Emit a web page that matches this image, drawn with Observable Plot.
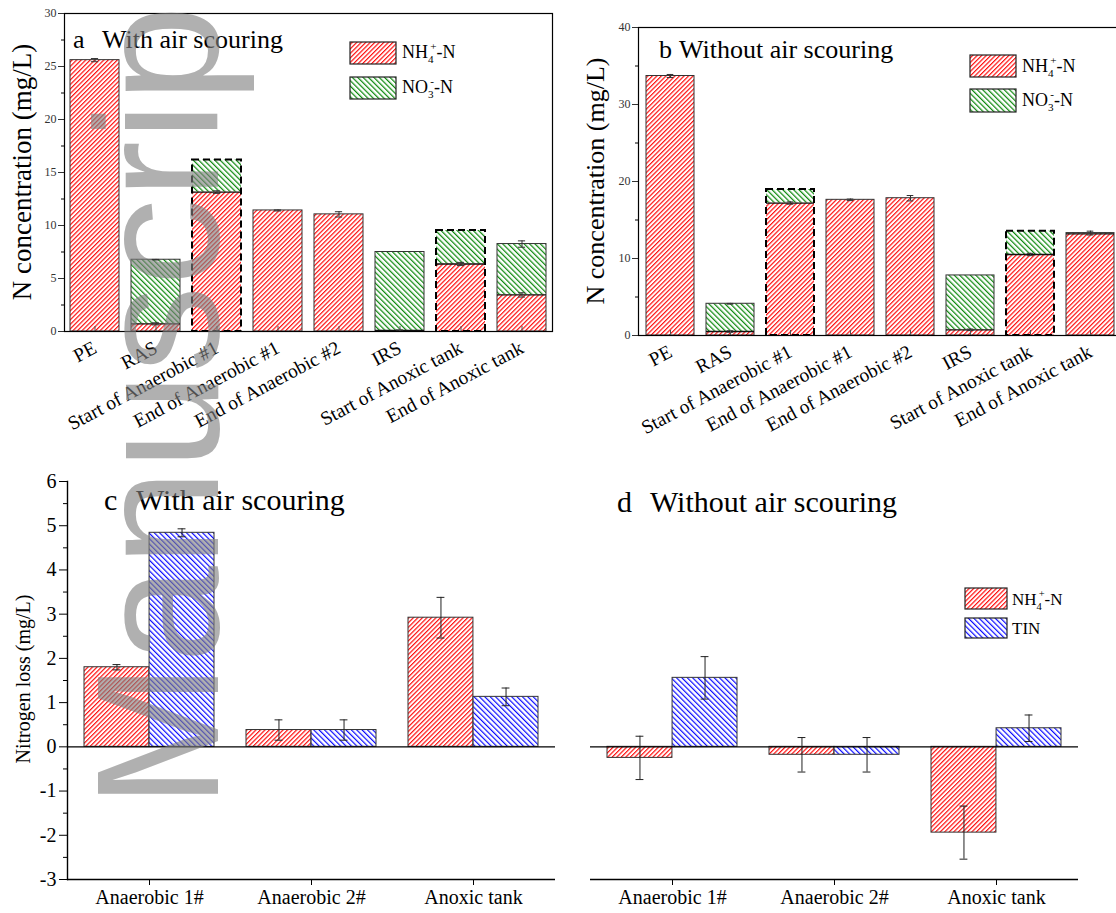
<!DOCTYPE html>
<html><head><meta charset="utf-8">
<script src="https://cdn.jsdelivr.net/npm/d3@7"></script>
<script src="https://cdn.jsdelivr.net/npm/@observablehq/plot@0.6"></script>
<style>
html,body{margin:0;padding:0;background:#fff;overflow:hidden;}
#root{position:relative;width:1116px;height:913px;overflow:hidden;}
#root svg{position:absolute;}
</style></head>
<body><div id="root"></div>
<script>
// ---------- data ----------
const stations = ["PE","RAS","Start of Anaerobic #1","End of Anaerobic #1","End of Anaerobic #2","IRS","Start of Anoxic tank","End of Anoxic tank"];
const dashedStations = ["Start of Anaerobic #1","Start of Anoxic tank"];
// panel a (with air scouring)
const nh4A    = [25.6, 0.72, 13.15, 11.42, 11.05, 0.10, 6.37, 3.45];
const no3A    = [0,    6.05, 3.03,  0,     0,     7.40, 3.16, 4.80];
const nh4ErrA = [0.15, 0.10, 0.12,  0.05,  0.25,  0.05, 0.15, 0.20];
const topErrA = [0,    0.03, 0,     0,     0,     0,    0,    0.30];
// panel b (without air scouring)
const nh4B    = [33.7, 0.52, 17.2,  17.62, 17.83, 0.74, 10.52, 13.2];
const no3B    = [0,    3.60, 1.76,  0,     0,     7.06, 3.03,  0.10];
const nh4ErrB = [0.20, 0.10, 0.15,  0.10,  0.35,  0.10, 0.15,  0];
const topErrB = [0,    0.05, 0,     0,     0,     0,    0,     0.25];
// panels c, d (nitrogen loss)
const zones = ["Anaerobic 1#","Anaerobic 2#","Anoxic tank"];
const nh4LossC = [1.80, 0.38, 2.92];
const nh4LossErrC = [0.06, 0.23, 0.46];
const tinLossC = [4.84, 0.38, 1.13];
const tinLossErrC = [0.09, 0.23, 0.20];
const nh4LossD = [-0.25, -0.18, -1.94];
const nh4LossErrD = [0.49, 0.39, 0.60];
const tinLossD = [1.56, -0.18, 0.42];
const tinLossErrD = [0.48, 0.39, 0.30];
const yTicksAB = {a:[0,5,10,15,20,25,30], b:[0,10,20,30,40]};
const yTicksC = [-3,-2,-1,0,1,2,3,4,5,6];

const root = document.getElementById("root");
const SERIF = "Liberation Serif, Times New Roman, serif";

// ---------- overlay svg with patterns ----------
const ov = d3.create("svg").attr("width",1116).attr("height",913)
  .style("left","0px").style("top","0px").style("z-index",5).style("pointer-events","none");
const defs = ov.append("defs");
function hatch(id, color, period, sw, angle){
  const p = defs.append("pattern").attr("id",id).attr("patternUnits","userSpaceOnUse")
    .attr("width",period).attr("height",period).attr("patternTransform",`rotate(${angle})`);
  p.append("rect").attr("width",period).attr("height",period).attr("fill","#fff");
  p.append("line").attr("x1",sw/2).attr("x2",sw/2).attr("y1",0).attr("y2",period)
    .attr("stroke",color).attr("stroke-width",sw);
}
hatch("hR","#ff1010",3.2,1.2,45);
hatch("hG","#108a10",3.8,1.25,-45);
hatch("hB","#0a0aff",3.8,1.2,-45);

// ---------- stacked panels ----------
function stackedPanel(o){
  const rows = stations.map((c,i)=>({cat:c, nh4:o.nh4[i], no3:o.no3[i], top:o.nh4[i]+o.no3[i],
    e1:o.nh4Err[i], e2:o.topErr[i], dashed:dashedStations.includes(c)}));
  const bw = 0.8*(o.width-o.ml-o.mr)/stations.length;
  const capIn = (bw-7)/2;
  const step = o.ticks[1]-o.ticks[0];
  const minors = o.ticks.slice(0,-1).map(t=>t+step/2);
  const e1 = rows.filter(d=>d.e1>0), e2 = rows.filter(d=>d.e2>0);
  const st = rows.filter(d=>d.no3>0);
  return Plot.plot({
    width:o.width, height:o.height, marginLeft:o.ml, marginRight:o.mr, marginTop:o.mt, marginBottom:o.mb,
    style:{fontFamily:SERIF, background:"transparent", overflow:"visible"},
    x:{domain:stations, paddingInner:0.2, paddingOuter:0.1},
    y:{domain:[0,o.ticks[o.ticks.length-1]]},
    marks:[
      Plot.barY(rows,{x:"cat", y1:0, y2:"nh4", fill:"url(#hR)"}),
      Plot.barY(st,{x:"cat", y1:"nh4", y2:"top", fill:"url(#hG)"}),
      Plot.barY(rows.filter(d=>!d.dashed),{x:"cat", y1:0, y2:"top", fill:"none", stroke:"#333", strokeWidth:1}),
      Plot.tickY(st,{x:"cat", y:"nh4", stroke:"#111", strokeWidth:1.3}),
      Plot.barY(rows.filter(d=>d.dashed),{x:"cat", y1:0, y2:"top", fill:"none", stroke:"#000", strokeWidth:2, strokeDasharray:"7,4"}),
      Plot.ruleX(e1,{x:"cat", y1:d=>d.nh4-d.e1, y2:d=>d.nh4+d.e1, stroke:"#333"}),
      Plot.tickY(e1,{x:"cat", y:d=>d.nh4-d.e1, insetLeft:capIn, insetRight:capIn, stroke:"#333"}),
      Plot.tickY(e1,{x:"cat", y:d=>d.nh4+d.e1, insetLeft:capIn, insetRight:capIn, stroke:"#333"}),
      Plot.ruleX(e2,{x:"cat", y1:d=>d.top-d.e2, y2:d=>d.top+d.e2, stroke:"#333"}),
      Plot.tickY(e2,{x:"cat", y:d=>d.top-d.e2, insetLeft:capIn, insetRight:capIn, stroke:"#333"}),
      Plot.tickY(e2,{x:"cat", y:d=>d.top+d.e2, insetLeft:capIn, insetRight:capIn, stroke:"#333"}),
      Plot.axisX({tickSize:-5, tickFormat:()=>"", stroke:"#555", label:null}),
      Plot.axisX({tickSize:0, tickPadding:15, tickRotate:-28, fontSize:19.5, fill:"#000", label:null}),
      Plot.axisY({ticks:o.ticks, tickSize:6, fontSize:12, color:"#333", tickPadding:2, tickFormat:d=>String(d), label:null}),
      Plot.axisY({ticks:minors, tickSize:3, tickFormat:()=>"", label:null}),
      Plot.frame({stroke:"#000", strokeWidth:1.2})
    ]
  });
}

// ---------- loss panels ----------
function lossPanel(o){
  const rows = zones.map((z,i)=>({cat:z, nh4:o.nh4[i], e1:o.nh4Err[i], tin:o.tin[i], e2:o.tinErr[i]}));
  const bw = 0.8*(o.width-o.ml-o.mr)/zones.length;
  const cap = 4;
  const minors = yTicksC.slice(0,-1).map(t=>t+0.5);
  const marks = [
    Plot.barY(rows,{x:"cat", y1:0, y2:"nh4", insetRight:bw/2, fill:"url(#hR)", stroke:"#333", strokeWidth:1}),
    Plot.barY(rows,{x:"cat", y1:0, y2:"tin", insetLeft:bw/2, fill:"url(#hB)", stroke:"#333", strokeWidth:1}),
    Plot.ruleY([0],{stroke:"#000", strokeWidth:1.4}),
    Plot.ruleX(rows,{x:"cat", dx:-bw/4, y1:d=>d.nh4-d.e1, y2:d=>d.nh4+d.e1, stroke:"#222"}),
    Plot.tickY(rows,{x:"cat", y:d=>d.nh4-d.e1, insetLeft:bw/4-cap, insetRight:3*bw/4-cap, stroke:"#222"}),
    Plot.tickY(rows,{x:"cat", y:d=>d.nh4+d.e1, insetLeft:bw/4-cap, insetRight:3*bw/4-cap, stroke:"#222"}),
    Plot.ruleX(rows,{x:"cat", dx:bw/4, y1:d=>d.tin-d.e2, y2:d=>d.tin+d.e2, stroke:"#222"}),
    Plot.tickY(rows,{x:"cat", y:d=>d.tin-d.e2, insetLeft:3*bw/4-cap, insetRight:bw/4-cap, stroke:"#222"}),
    Plot.tickY(rows,{x:"cat", y:d=>d.tin+d.e2, insetLeft:3*bw/4-cap, insetRight:bw/4-cap, stroke:"#222"}),
    Plot.ruleY([yTicksC[0]],{stroke:"#000", strokeWidth:1.4}),
    Plot.axisX({tickSize:6, tickPadding:4, fontSize:20, fill:"#000", stroke:"#000", label:null})
  ];
  if (o.showY) {
    marks.push(
      Plot.axisY({ticks:yTicksC, tickSize:8, fontSize:20, fill:"#000", stroke:"#000", tickPadding:3, tickFormat:d=>String(d), label:null}),
      Plot.axisY({ticks:minors, tickSize:4, tickFormat:()=>"", label:null}),
      Plot.frame({anchor:"left", stroke:"#000", strokeWidth:1.4})
    );
  } else {
    marks.push(Plot.axisY({ticks:[], label:null}));
  }
  return Plot.plot({
    width:o.width, height:453, marginLeft:o.ml, marginRight:o.mr, marginTop:21, marginBottom:34,
    style:{fontFamily:SERIF, background:"transparent", overflow:"visible"},
    x:{domain:zones, paddingInner:0.2, paddingOuter:0.1},
    y:{domain:[yTicksC[0], yTicksC[yTicksC.length-1]]},
    marks
  });
}

root.appendChild(ov.node());

function put(svg, left, top){ svg.style.left = left+"px"; svg.style.top = top+"px"; root.insertBefore(svg, ov.node()); }

put(stackedPanel({nh4:nh4A, no3:no3A, nh4Err:nh4ErrA, topErr:topErrA, ticks:yTicksAB.a,
  width:560, height:460, ml:64, mr:8, mt:13, mb:129}), 0, 0);
put(stackedPanel({nh4:nh4B, no3:no3B, nh4Err:nh4ErrB, topErr:topErrB, ticks:yTicksAB.b,
  width:566, height:460, ml:78, mr:4, mt:27, mb:125}), 560, 0);
put(lossPanel({nh4:nh4LossC, nh4Err:nh4LossErrC, tin:tinLossC, tinErr:tinLossErrC, width:560, ml:67, mr:5, showY:true}), 0, 460);
put(lossPanel({nh4:nh4LossD, nh4Err:nh4LossErrD, tin:tinLossD, tinErr:tinLossErrD, width:556, ml:30, mr:38, showY:false}), 560, 460);

// ---------- titles, axis titles, legends ----------
const g = ov.append("g").attr("font-family", SERIF).attr("fill","#000");
function txt(x,y,s,size){ return g.append("text").attr("x",x).attr("y",y).attr("font-size",size).text(s); }
txt(73,48,"a",26); txt(102,48,"With air scouring",26);
txt(659,58,"b",26); txt(679,58,"Without air scouring",26);
txt(104,510,"c",30); txt(136,510,"With air scouring",30);
txt(617,512,"d",30); txt(650,512,"Without air scouring",30);

function ytitle(x,y,s,size){
  g.append("text").attr("transform",`translate(${x},${y}) rotate(-90)`).attr("text-anchor","middle")
   .attr("font-size",size).text(s);
}
ytitle(31,172,"N concentration (mg/L)",27);
ytitle(604,181,"N concentration (mg/L)",26);
ytitle(30,679,"Nitrogen loss (mg/L)",20);

function chem(x,y,base,sub,sup,size){
  const t = g.append("text").attr("x",x).attr("y",y).attr("font-size",size);
  t.append("tspan").text(base);
  const s = size*0.62;
  t.append("tspan").attr("font-size",s).attr("dy",size*0.3).text(sub);
  t.append("tspan").attr("font-size",s).attr("dx",-s*0.3).attr("dy",-size*0.75).text(sup);
  t.append("tspan").attr("dy",size*0.45).text("-N");
}
function swatch(x,y,w,h,fill){
  g.append("rect").attr("x",x).attr("y",y).attr("width",w).attr("height",h)
   .attr("fill",fill).attr("stroke","#222").attr("stroke-width",1.2);
}
// legend a
swatch(350,42,46,22,"url(#hR)"); chem(402,58,"NH","4","+",18);
swatch(350,77,46,22,"url(#hG)"); chem(402,93,"NO","3","-",18);
// legend b
swatch(970,55,46,22,"url(#hR)"); chem(1022,72,"NH","4","+",18);
swatch(970,89,46,23,"url(#hG)"); chem(1022,106,"NO","3","-",18);
// legend d
swatch(965,588,42,21,"url(#hR)"); chem(1012,605,"NH","4","+",17);
swatch(965,618,42,20,"url(#hB)"); txt(1012,634,"TIN",17);

// ---------- watermark (visible part of the page watermark) ----------
ov.append("text").attr("transform","translate(218,808) rotate(-90)")
  .attr("font-family","Liberation Sans, Arial, sans-serif").attr("font-size",174)
  .attr("fill","#808080").attr("fill-opacity",0.62).text("Manuscrip");
</script>
</body></html>
